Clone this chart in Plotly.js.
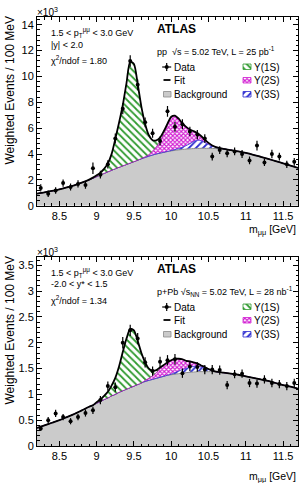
<!DOCTYPE html>
<html>
<head>
<meta charset="utf-8">
<script src="https://cdn.plot.ly/plotly-3.0.1.min.js"></script>
<style>html,body{margin:0;padding:0;background:#fff;}#chart{width:302px;height:483px;}</style>
</head>
<body>
<div id="chart"></div>
<script>
// ---------- data (×10^3 weighted events per 100 MeV) ----------
const massBins = [8.25,8.35,8.45,8.55,8.65,8.75,8.85,8.95,9.05,9.15,9.25,9.35,9.45,9.55,9.65,9.75,9.85,9.95,10.05,10.15,10.25,10.35,10.45,10.55,10.65,10.75,10.85,10.95,11.05,11.15,11.25,11.35,11.45,11.55,11.65];

const ppData = [1.37,0.93,1.18,1.75,1.45,1.68,1.60,2.90,2.40,3.20,5.20,7.50,11.20,9.35,6.45,5.60,5.00,7.30,6.10,6.30,5.75,5.50,5.20,3.80,4.30,4.05,4.20,4.00,3.50,4.65,3.35,4.00,3.80,3.20,3.40];
const ppErr  = [0.28,0.25,0.25,0.28,0.27,0.28,0.28,0.45,0.30,0.32,0.38,0.42,0.45,0.42,0.38,0.35,0.35,0.42,0.38,0.38,0.35,0.35,0.33,0.30,0.30,0.30,0.30,0.30,0.30,0.38,0.28,0.33,0.30,0.28,0.30];

const pPbData = [0.34,0.50,0.63,0.56,0.48,0.56,0.64,0.69,0.89,1.16,1.14,2.00,2.24,2.08,1.62,1.45,1.63,1.66,1.68,1.41,1.54,1.53,1.48,1.48,1.47,1.18,1.39,1.40,1.22,1.21,1.29,1.22,1.20,1.16,1.22];
const pPbErr  = [0.05,0.06,0.07,0.06,0.06,0.06,0.07,0.07,0.08,0.09,0.09,0.11,0.11,0.11,0.10,0.09,0.10,0.10,0.10,0.09,0.09,0.09,0.09,0.09,0.09,0.08,0.08,0.08,0.08,0.08,0.08,0.08,0.08,0.08,0.08];

// fit curve components sampled on a mass grid
const fitMass = [8.2,8.3,8.4,8.5,8.6,8.7,8.8,8.9,8.95,9.0,9.05,9.1,9.15,9.2,9.25,9.3,9.35,9.4,9.45,9.5,9.55,9.6,9.65,9.7,9.75,9.8,9.85,9.9,9.95,10.0,10.05,10.1,10.15,10.2,10.25,10.3,10.35,10.4,10.45,10.5,10.55,10.6,10.7,10.8,10.9,11.0,11.1,11.2,11.3,11.4,11.5,11.6,11.7];

const ppBkg = [0.93,1.03,1.14,1.27,1.42,1.58,1.78,2.00,2.12,2.25,2.38,2.50,2.62,2.74,2.86,2.97,3.08,3.19,3.30,3.41,3.52,3.63,3.73,3.83,3.92,4.00,4.07,4.13,4.19,4.24,4.28,4.32,4.35,4.38,4.40,4.42,4.43,4.44,4.44,4.44,4.43,4.42,4.38,4.30,4.20,4.08,3.94,3.78,3.62,3.45,3.28,3.10,2.92];
const pp1S  = [0,0,0,0,0,0,0,0.02,0.05,0.10,0.18,0.35,0.65,1.25,2.30,3.45,4.70,6.30,7.85,7.55,5.90,4.00,2.55,1.50,0.85,0.50,0.30,0.18,0.10,0.06,0.03,0.01,0,0,0,0,0,0,0,0,0,0,0,0,0,0,0,0,0,0,0,0,0];
const pp2S  = [0,0,0,0,0,0,0,0,0,0,0,0,0,0,0,0,0,0,0,0,0,0.02,0.05,0.12,0.30,0.55,0.90,1.45,2.05,2.55,2.60,2.30,1.85,1.45,1.10,0.80,0.55,0.35,0.22,0.12,0.06,0.03,0,0,0,0,0,0,0,0,0,0,0];
const pp3S  = [0,0,0,0,0,0,0,0,0,0,0,0,0,0,0,0,0,0,0,0,0,0,0,0,0,0,0,0,0.01,0.03,0.06,0.10,0.17,0.27,0.40,0.55,0.64,0.60,0.45,0.30,0.17,0.09,0.02,0,0,0,0,0,0,0,0,0,0];

const pPbBkg = [0.35,0.40,0.45,0.50,0.56,0.62,0.69,0.76,0.79,0.83,0.86,0.90,0.93,0.97,1.00,1.04,1.07,1.10,1.13,1.16,1.19,1.22,1.25,1.27,1.29,1.31,1.33,1.35,1.37,1.38,1.39,1.40,1.41,1.42,1.43,1.43,1.44,1.44,1.44,1.44,1.44,1.43,1.42,1.40,1.38,1.35,1.32,1.29,1.26,1.22,1.18,1.15,1.11];
const pPb1S  = [0,0,0,0,0,0,0,0,0,0.02,0.04,0.07,0.12,0.20,0.32,0.50,0.75,0.98,1.14,1.08,0.85,0.58,0.35,0.19,0.10,0.05,0.03,0.01,0,0,0,0,0,0,0,0,0,0,0,0,0,0,0,0,0,0,0,0,0,0,0,0,0];
const pPb2S  = [0,0,0,0,0,0,0,0,0,0,0,0,0,0,0,0,0,0,0,0,0,0,0.02,0.04,0.07,0.11,0.16,0.21,0.25,0.27,0.27,0.24,0.20,0.15,0.11,0.08,0.05,0.03,0.02,0.01,0,0,0,0,0,0,0,0,0,0,0,0,0];
const pPb3S  = [0,0,0,0,0,0,0,0,0,0,0,0,0,0,0,0,0,0,0,0,0,0,0,0,0,0,0,0,0,0.01,0.03,0.05,0.07,0.08,0.10,0.11,0.11,0.09,0.07,0.04,0.02,0.01,0,0,0,0,0,0,0,0,0,0,0];

const xTickVals = [8.5,9,9.5,10,10.5,11,11.5];
const legendLabels = ['Data','Fit','Background','\u03A5(1S)','\u03A5(2S)','\u03A5(3S)'];

// ---------- styles ----------
const FONT = 'Liberation Sans, Arial, Helvetica, sans-serif';
const C_BKG = '#cbcbcb', C_BKGLINE = '#8a8a8a';
const C_1S = '#2f9a2f', C_2S = '#d21ed2', C_3S = '#2b2bd0';
const PAT1 = {shape:'\\', fgcolor:C_1S, bgcolor:'#ffffff', size:5, solidity:0.35};
const PAT2 = {shape:'x', fgcolor:C_2S, bgcolor:'#ffffff', size:3, solidity:0.6};
const PAT3 = {shape:'/', fgcolor:C_3S, bgcolor:'#ffffff', size:5, solidity:0.35};

// pixel geometry of the figure
const W = 302, H = 483, PL = 37, PR = 298, PT = 17, PB = 446;
const px = v => (v - PL) / (PR - PL);
const py = v => (PB - v) / (PB - PT);

function add(a, b) { return a.map((v, i) => v + b[i]); }

const traces = [];
function panel(sfx, bkg, s1, s2, s3, data, err) {
  const xa = 'x' + sfx, ya = 'y' + sfx;
  const c3 = add(bkg, s3), c2 = add(c3, s2), c1 = add(c2, s1);
  const ln = {shape:'spline', smoothing:0.7};
  traces.push({x:fitMass, y:bkg, xaxis:xa, yaxis:ya, mode:'lines', fill:'tozeroy', fillcolor:C_BKG,
    line:Object.assign({color:C_BKGLINE, width:1}, ln), hoverinfo:'skip', showlegend:false});
  traces.push({x:fitMass, y:c3, xaxis:xa, yaxis:ya, mode:'lines', fill:'tonexty', fillpattern:PAT3,
    line:Object.assign({color:C_3S, width:0.8}, ln), hoverinfo:'skip', showlegend:false});
  traces.push({x:fitMass, y:c2, xaxis:xa, yaxis:ya, mode:'lines', fill:'tonexty', fillpattern:PAT2,
    line:Object.assign({color:'#a010a0', width:0.8}, ln), hoverinfo:'skip', showlegend:false});
  traces.push({x:fitMass, y:c1, xaxis:xa, yaxis:ya, mode:'lines', fill:'tonexty', fillpattern:PAT1,
    line:Object.assign({color:'#000', width:0}, ln), hoverinfo:'skip', showlegend:false});
  traces.push({x:fitMass, y:c1, xaxis:xa, yaxis:ya, mode:'lines',
    line:Object.assign({color:'#000', width:1.8}, ln), showlegend:false});
  traces.push({x:massBins, y:data, xaxis:xa, yaxis:ya, mode:'markers', marker:{color:'#000', size:4},
    error_y:{type:'data', array:err, color:'#000', thickness:1.2, width:0}, showlegend:false});
}
panel('', ppBkg, pp1S, pp2S, pp3S, ppData, ppErr);
panel('2', pPbBkg, pPb1S, pPb2S, pPb3S, pPbData, pPbErr);

// legend swatches drawn on a pixel-coordinate overlay axis
function legendSwatches(o) {
  const box = (x0, x1, y0, y1, extra) => Object.assign({x:[x0,x1,x1,x0,x0], y:[y0,y0,y1,y1,y0],
    xaxis:'x3', yaxis:'y3', mode:'lines', fill:'toself', hoverinfo:'skip', showlegend:false}, extra);
  traces.push({x:[166.7], y:[67+o], xaxis:'x3', yaxis:'y3', mode:'markers', marker:{color:'#000', size:4},
    error_y:{type:'constant', value:4, color:'#000', thickness:1.2, width:0},
    error_x:{type:'constant', value:4.5, color:'#000', thickness:1.2, width:0}, showlegend:false, hoverinfo:'skip'});
  traces.push({x:[163.5,170.5], y:[80+o,80+o], xaxis:'x3', yaxis:'y3', mode:'lines', line:{color:'#000', width:1.8}, showlegend:false, hoverinfo:'skip'});
  traces.push(box(163.5, 171, 91.5+o, 97+o, {fillcolor:C_BKG, line:{color:C_BKGLINE, width:0.8}}));
  traces.push(box(243, 251, 64+o, 69.5+o, {fillpattern:PAT1, line:{color:C_1S, width:0.8}}));
  traces.push(box(243, 251, 77.5+o, 83+o, {fillpattern:PAT2, line:{color:C_2S, width:0.8}}));
  traces.push(box(243, 251, 91.5+o, 97+o, {fillpattern:PAT3, line:{color:C_3S, width:0.8}}));
}
legendSwatches(0);
legendSwatches(240);

// ---------- annotations ----------
const ann = [];
function A(text, x, y, size, extra) {
  ann.push(Object.assign({xref:'paper', yref:'paper', x:px(x), y:py(y), xanchor:'left', yanchor:'middle',
    showarrow:false, text:text, font:{family:FONT, size:size, color:'#000'}}, extra || {}));
}
function panelText(o, lines, beam) {
  A('\u00D710<sup>3</sup>', 35, 11.5 + o, 10);
  A(lines[0], 49, 32 + o, 9);
  A(lines[1], 49, 44.5 + o, 9);
  A(lines[2], 49, 59.5 + o, 9);
  A('<b>ATLAS</b>', 155, 29 + o, 12);
  A(beam, 155, 51 + o, 9);
  A(legendLabels[0], 172, 67 + o, 10);
  A(legendLabels[1], 172, 80 + o, 10);
  A(legendLabels[2], 172, 94 + o, 10);
  A(legendLabels[3], 252, 67 + o, 10);
  A(legendLabels[4], 252, 80 + o, 10);
  A(legendLabels[5], 252, 94 + o, 10);
  A('Weighted Events / 100 MeV', 9.5, 90 + o, 12, {xanchor:'center', textangle:-90});
}
panelText(0, ['1.5 < p<sub>T</sub><sup>\u03BC\u03BC</sup> < 3.0 GeV', '|y| < 2.0', '\u03C7<sup>2</sup>/ndof = 1.80'],
  'pp  \u221As = 5.02 TeV, L = 25 pb<sup>-1</sup>');
panelText(240, ['1.5 < p<sub>T</sub><sup>\u03BC\u03BC</sup> < 3.0 GeV', '-2.0 < y* < 1.5', '\u03C7<sup>2</sup>/ndof = 1.34'],
  'p+Pb \u221As<sub>NN</sub> = 5.02 TeV, L = 28 nb<sup>-1</sup>');
A('m<sub>\u03BC\u03BC</sub> [GeV]', 298, 230, 10.5, {xanchor:'right'});
A('m<sub>\u03BC\u03BC</sub> [GeV]', 298, 477, 10.5, {xanchor:'right'});

// ---------- axes ----------
const xBase = {range:[8.2, 11.7], tickvals:xTickVals, ticktext:xTickVals.map(String), ticks:'inside', ticklen:5, tickcolor:'#000',
  showline:true, linecolor:'#000', linewidth:1, mirror:'allticks', showgrid:false, zeroline:false,
  tickfont:{family:FONT, size:11, color:'#000'}, fixedrange:true,
  minor:{dtick:0.1, tick0:8.2, ticks:'inside', ticklen:2.5, tickcolor:'#000', showgrid:false}};
const yBase = {ticks:'inside', ticklen:5, tickcolor:'#000', showline:true, linecolor:'#000', linewidth:1,
  mirror:'allticks', showgrid:false, zeroline:false, tickfont:{family:FONT, size:11, color:'#000'}, fixedrange:true};
const hiddenAxis = {visible:false, showticklabels:false, ticks:'', showgrid:false, zeroline:false, showline:false, fixedrange:true};

const layout = {
  width:W, height:H, margin:{l:PL, r:W-PR, t:PT, b:H-PB}, paper_bgcolor:'#fff', plot_bgcolor:'rgba(0,0,0,0)',
  showlegend:false, font:{family:FONT, color:'#000'},
  xaxis: Object.assign({}, xBase, {domain:[0,1], anchor:'y'}),
  yaxis: Object.assign({}, yBase, {domain:[py(205.7), 1], anchor:'x', range:[0, 14.6], tick0:0, dtick:2,
    minor:{dtick:0.4, ticks:'inside', ticklen:2.5, tickcolor:'#000', showgrid:false}}),
  xaxis2: Object.assign({}, xBase, {domain:[0,1], anchor:'y2'}),
  yaxis2: Object.assign({}, yBase, {domain:[0, py(257)], anchor:'x2', range:[0, 3.66], tick0:0, dtick:0.5,
    minor:{dtick:0.1, ticks:'inside', ticklen:2.5, tickcolor:'#000', showgrid:false}}),
  xaxis3: Object.assign({domain:[0,1], range:[PL, PR], anchor:'y3'}, hiddenAxis),
  yaxis3: Object.assign({domain:[0,1], range:[PB, PT], anchor:'x3'}, hiddenAxis),
  annotations: ann
};

Plotly.newPlot('chart', traces, layout, {displayModeBar:false});
</script>
</body>
</html>
